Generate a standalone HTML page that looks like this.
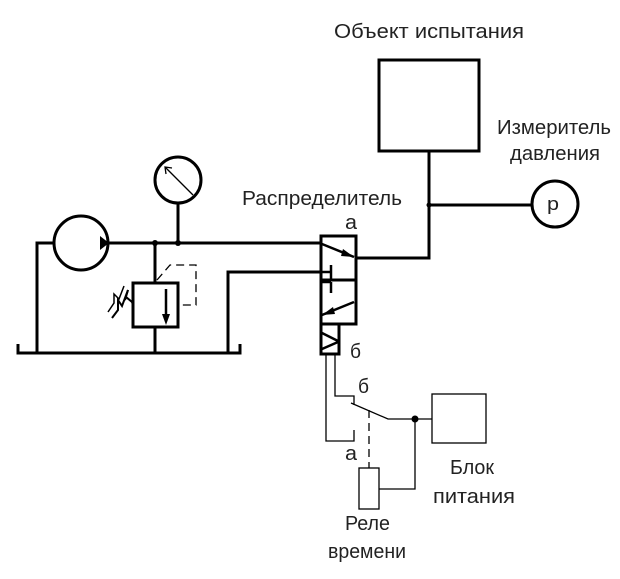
<!DOCTYPE html>
<html><head><meta charset="utf-8"><style>html,body{margin:0;padding:0;background:#fff}svg{display:block}</style></head>
<body>
<svg width="620" height="579" viewBox="0 0 620 579" xmlns="http://www.w3.org/2000/svg">
<g font-family="Liberation Sans, DejaVu Sans, sans-serif" font-size="20" fill="#222" lengthAdjust="spacingAndGlyphs">
<text x="334" y="38" textLength="190" lengthAdjust="spacingAndGlyphs">Объект испытания</text>
<text x="497" y="134" textLength="114" lengthAdjust="spacingAndGlyphs">Измеритель</text>
<text x="510" y="160" textLength="90" lengthAdjust="spacingAndGlyphs">давления</text>
<text x="242" y="205" textLength="160" lengthAdjust="spacingAndGlyphs">Распределитель</text>
<text x="345" y="229" textLength="12" lengthAdjust="spacingAndGlyphs">а</text>
<text x="350" y="358" textLength="11" lengthAdjust="spacingAndGlyphs">б</text>
<text x="358" y="393" textLength="11" lengthAdjust="spacingAndGlyphs">б</text>
<text x="345" y="460" textLength="12" lengthAdjust="spacingAndGlyphs">а</text>
<text x="450" y="474" textLength="44" lengthAdjust="spacingAndGlyphs">Блок</text>
<text x="433" y="503" textLength="82" lengthAdjust="spacingAndGlyphs">питания</text>
<text x="345" y="530" textLength="45" lengthAdjust="spacingAndGlyphs">Реле</text>
<text x="328" y="558" textLength="78" lengthAdjust="spacingAndGlyphs">времени</text>
<text x="547" y="210" font-size="18" textLength="12" lengthAdjust="spacingAndGlyphs">р</text>
</g>
<g fill="none" stroke="#000" stroke-width="3">
<polyline points="18,344 18,353 240,353 240,344"/>
<polyline points="37,353 37,243 53,243"/>
<circle cx="81" cy="243" r="27"/>
<line x1="108" y1="243" x2="321" y2="243"/>
<line x1="155" y1="243" x2="155" y2="283"/>
<line x1="155" y1="327" x2="155" y2="353"/>
<rect x="133" y="283" width="45" height="44"/>
<line x1="178" y1="243" x2="178" y2="203"/>
<circle cx="178" cy="180" r="23"/>
<polyline points="228,353 228,272 321,272"/>
<rect x="321" y="236" width="35" height="88"/>
<line x1="321" y1="280" x2="356" y2="280"/>
<rect x="321" y="324" width="18" height="30"/>
<polyline points="356,258 429,258 429,151"/>
<rect x="379" y="60" width="100" height="91"/>
<line x1="429" y1="205" x2="532" y2="205"/>
<circle cx="555" cy="204" r="23"/>
</g>
<g stroke="#000" stroke-width="2.5" fill="none">
<line x1="322" y1="244" x2="354" y2="257"/>
<line x1="321" y1="272" x2="331" y2="272"/>
<line x1="331" y1="265" x2="331" y2="279"/>
<line x1="321" y1="282" x2="331" y2="282"/>
<line x1="331" y1="282" x2="331" y2="293"/>
<line x1="322" y1="315" x2="354" y2="302"/>
<line x1="322" y1="333" x2="338" y2="341"/>
<line x1="322" y1="349" x2="338" y2="342"/>
<line x1="166" y1="289" x2="166" y2="320"/>
</g>
<g fill="#000">
<polygon points="354,257 343,249 341,256"/>
<polygon points="322,315 333,307 335,314"/>
<polygon points="100,236 109,243 100,250"/>
<polygon points="162,314 170,314 166,325"/>
<circle cx="155" cy="243" r="3"/><circle cx="178" cy="243" r="3"/>
<circle cx="429" cy="205" r="2.5"/><circle cx="415" cy="419" r="3.5"/>
</g>
<g stroke="#000" stroke-width="1.3" fill="none">
<line x1="165" y1="167" x2="193" y2="195"/>
<polyline points="166,174 165,167 172,168"/>
<polyline points="157,280 170,265 196,265 196,305 180,305" stroke-dasharray="8,5"/>
<polyline points="112,318 118,310 118,300 122,306 128,290" stroke-width="2"/>
<polyline points="108,312 114,303 114,294 119,299 124,286" stroke-width="1.5"/>
<polyline points="128,290 125,300 126,297 132,302 133,305" stroke-width="2"/>
<polyline points="326,354 326,441 354,441 354,430"/>
<polyline points="335,354 335,396 354,396 354,405"/>
<polyline points="351,403 388,419 432,419"/>
<rect x="432" y="394" width="54" height="49"/>
<line x1="369" y1="410" x2="369" y2="468" stroke-dasharray="8,5"/>
<rect x="359" y="468" width="20" height="41"/>
<polyline points="379,489 415,489 415,419"/>
</g>
</svg>
</body></html>
